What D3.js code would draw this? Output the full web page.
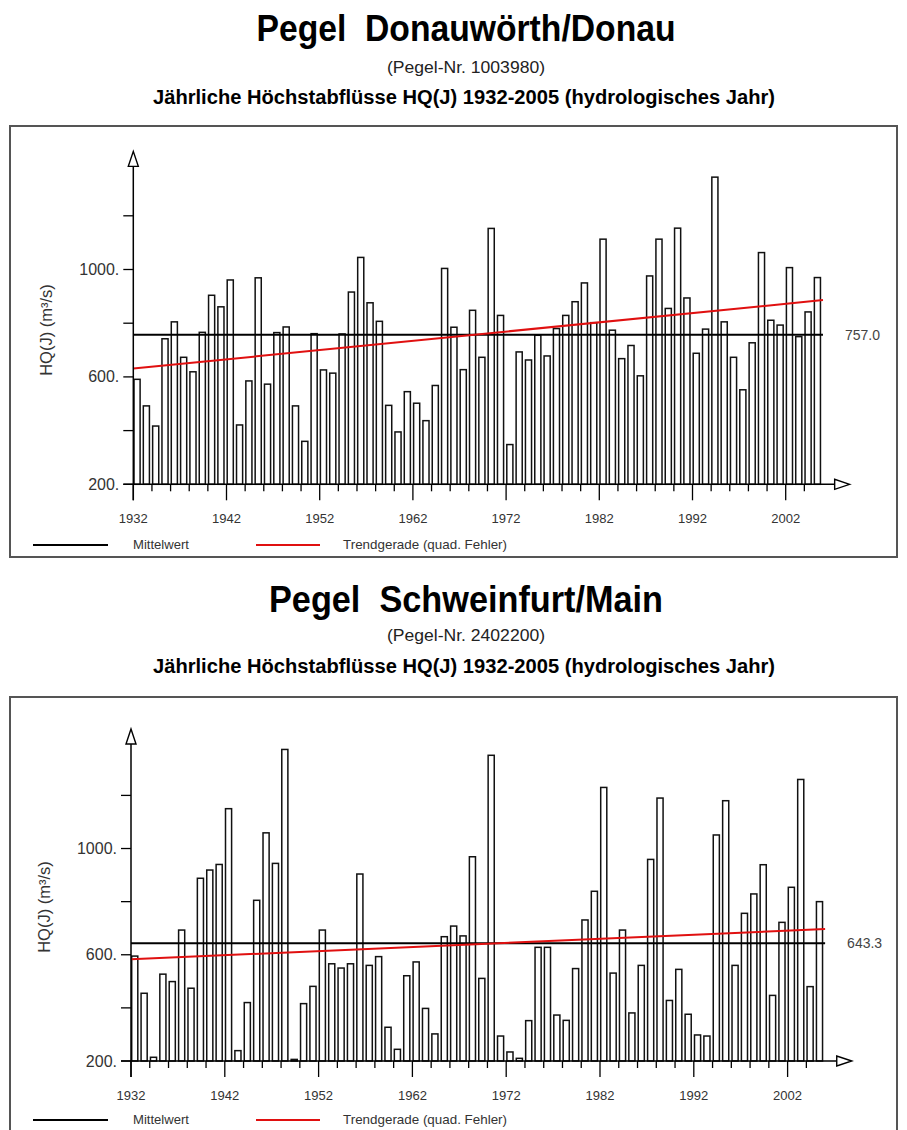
<!DOCTYPE html>
<html>
<head>
<meta charset="utf-8">
<script src="https://cdn.jsdelivr.net/npm/d3@7"></script>
<style>
  body { margin: 0; background: #fff; }
  svg { display: block; }
</style>
</head>
<body>
<svg id="chart" width="907" height="1130"></svg>
<script>
// Hydrological years shown on the x axis
const years = d3.range(1932, 2006);

// Annual peak discharge HQ(J) in m³/s, gauge Donauwörth/Donau
const donauwoerthHQ = [
  591, 492, 417, 742, 805, 673, 619, 766, 904, 861,
  961, 421, 585, 969, 573, 765, 786, 492, 360, 761,
  626, 614, 760, 916, 1045, 876, 807, 494, 395, 545,
  502, 437, 568, 1004, 785, 627, 848, 673, 1153, 829,
  348, 693, 663, 755, 678, 780, 829, 880, 950, 802,
  1113, 774, 668, 717, 604, 976, 1113, 855, 1154, 894,
  688, 778, 1344, 805, 673, 552, 727, 1063, 811, 793,
  1007, 750, 842, 970
];

// Annual peak discharge HQ(J) in m³/s, gauge Schweinfurt/Main
const schweinfurtHQ = [
  595, 455, 214, 527, 499, 693, 474, 888, 919, 940,
  1150, 239, 420, 805, 1059, 944, 1373, 206, 416, 481,
  693, 566, 550, 566, 904, 560, 593, 327, 244, 521,
  573, 398, 302, 668, 708, 671, 969, 511, 1351, 294,
  234, 210, 352, 628, 628, 373, 353, 548, 731, 839,
  1230, 531, 693, 381, 560, 959, 1190, 428, 545, 376,
  298, 294, 1051, 1180, 560, 756, 829, 939, 447, 722,
  854, 1260, 480, 800
];

// Long-term means (Mittelwert)
const meanValues = [757.0, 643.3];
// Least-squares trend line, values at the start (1932) and end (2006) of the line
const trendDonau = [631, 886];
const trendMain = [583, 697];
const trendYears = [1932, 2006];

// Axis ticks
const yTickValues = [200, 400, 600, 800, 1000, 1200];
const yLabelValues = [200, 600, 1000];
const xMinorTicks = d3.range(1932, 2005, 2);
const xLabelYears = [1932, 1942, 1952, 1962, 1972, 1982, 1992, 2002];

// Header texts
const titles = ["Pegel  Donauwörth/Donau", "Pegel  Schweinfurt/Main"];
const gaugeNumbers = ["(Pegel-Nr. 1003980)", "(Pegel-Nr. 2402200)"];
const headline = "Jährliche Höchstabflüsse HQ(J) 1932-2005 (hydrologisches Jahr)";
const legendLabels = ["Mittelwert", "Trendgerade (quad. Fehler)"];

const FONT = "'Liberation Sans', Arial, Helvetica, sans-serif";
const svg = d3.select("#chart");

function drawPanel(p) {
  const g = svg.append("g");

  // Header
  g.append("text")
    .attr("x", p.cx).attr("y", p.titleY)
    .attr("text-anchor", "middle")
    .attr("font-family", FONT).attr("font-weight", "bold").attr("font-size", 37)
    .attr("textLength", p.titleW).attr("lengthAdjust", "spacingAndGlyphs")
    .style("white-space", "pre")
    .text(p.title);
  g.append("text")
    .attr("x", p.cx).attr("y", p.subY)
    .attr("text-anchor", "middle")
    .attr("font-family", FONT).attr("font-size", 16).attr("fill", "#222")
    .attr("textLength", 158).attr("lengthAdjust", "spacingAndGlyphs")
    .text(p.gauge);
  g.append("text")
    .attr("x", p.cx - 2).attr("y", p.headY)
    .attr("text-anchor", "middle")
    .attr("font-family", FONT).attr("font-weight", "bold").attr("font-size", 19.5)
    .attr("textLength", 622).attr("lengthAdjust", "spacingAndGlyphs")
    .text(headline);

  // Frame
  g.append("rect")
    .attr("x", 10).attr("y", p.frameTop)
    .attr("width", 887).attr("height", p.frameH)
    .attr("fill", "none").attr("stroke", "#555").attr("stroke-width", 2);

  const x = d3.scaleLinear().domain([1932, 2005]).range([p.x0, p.x0 + 73 * p.step]);
  const y = d3.scaleLinear().domain([200, 1200]).range([p.base, p.y1200]);
  const axisTop = y(p.axisMax);
  const axisRight = x(2005) + 36;

  // Bars
  g.append("g").selectAll("rect")
    .data(years.map((yr, i) => ({ yr, v: p.values[i] })))
    .join("rect")
    .attr("x", d => x(d.yr) + 0.7)
    .attr("y", d => y(d.v))
    .attr("width", 6.1)
    .attr("height", d => p.base - y(d.v))
    .attr("fill", "#fff")
    .attr("stroke", "#111")
    .attr("stroke-width", 1.5);

  // Mean and trend lines
  g.append("line")
    .attr("x1", x(trendYears[0])).attr("x2", x(trendYears[1]))
    .attr("y1", y(p.mean)).attr("y2", y(p.mean))
    .attr("stroke", "#000").attr("stroke-width", 2);
  g.append("line")
    .attr("x1", x(trendYears[0])).attr("x2", x(trendYears[1]))
    .attr("y1", y(p.trend[0])).attr("y2", y(p.trend[1]))
    .attr("stroke", "#e01010").attr("stroke-width", 2);
  g.append("text")
    .attr("x", x(trendYears[1]) + 22).attr("y", y(p.mean) + 5)
    .attr("font-family", FONT).attr("font-size", 14).attr("fill", "#444")
    .text(d3.format(".1f")(p.mean));

  // Y axis with open arrow head
  g.append("line")
    .attr("x1", p.x0).attr("x2", p.x0)
    .attr("y1", p.base + 16).attr("y2", axisTop + 14)
    .attr("stroke", "#000").attr("stroke-width", 1.5);
  g.append("path")
    .attr("d", `M${p.x0},${axisTop} L${p.x0 - 5},${axisTop + 15} L${p.x0 + 5},${axisTop + 15} Z`)
    .attr("fill", "#fff").attr("stroke", "#000").attr("stroke-width", 1.4);
  g.append("g").selectAll("line")
    .data(yTickValues)
    .join("line")
    .attr("x1", p.x0 - 10).attr("x2", p.x0)
    .attr("y1", d => y(d)).attr("y2", d => y(d))
    .attr("stroke", "#000").attr("stroke-width", 1.3);
  g.append("g").selectAll("text")
    .data(yLabelValues)
    .join("text")
    .attr("x", p.x0 - 14).attr("y", d => y(d) + 5.5)
    .attr("text-anchor", "end")
    .attr("font-family", FONT).attr("font-size", 16).attr("fill", "#333")
    .text(d => d + ".");
  g.append("text")
    .attr("transform", `translate(${p.yLabelX},${p.yLabelY}) rotate(-90)`)
    .attr("text-anchor", "middle")
    .attr("font-family", FONT).attr("font-size", 16.5).attr("fill", "#333")
    .text("HQ(J) (m³/s)");

  // X axis with open arrow head
  g.append("line")
    .attr("x1", p.x0 - 10).attr("x2", axisRight - 14)
    .attr("y1", p.base).attr("y2", p.base)
    .attr("stroke", "#000").attr("stroke-width", 1.5);
  g.append("path")
    .attr("d", `M${axisRight},${p.base} L${axisRight - 15},${p.base - 5} L${axisRight - 15},${p.base + 5} Z`)
    .attr("fill", "#fff").attr("stroke", "#000").attr("stroke-width", 1.4);
  g.append("g").selectAll("line")
    .data(xMinorTicks)
    .join("line")
    .attr("x1", d => x(d)).attr("x2", d => x(d))
    .attr("y1", p.base)
    .attr("y2", d => p.base + ((d - 1932) % 10 === 0 ? 16 : 7))
    .attr("stroke", "#000").attr("stroke-width", 1.3);
  g.append("g").selectAll("text")
    .data(xLabelYears)
    .join("text")
    .attr("x", d => x(d)).attr("y", p.base + 39)
    .attr("text-anchor", "middle")
    .attr("font-family", FONT).attr("font-size", 13.5).attr("fill", "#333")
    .attr("textLength", 29).attr("lengthAdjust", "spacingAndGlyphs")
    .text(d => d);

  // Legend
  const ly = p.legendY;
  g.append("line").attr("x1", 33).attr("x2", 108).attr("y1", ly).attr("y2", ly)
    .attr("stroke", "#000").attr("stroke-width", 2);
  g.append("text").attr("x", 133).attr("y", ly + 4)
    .attr("font-family", FONT).attr("font-size", 13.5).attr("fill", "#333")
    .attr("textLength", 56).attr("lengthAdjust", "spacingAndGlyphs")
    .text(legendLabels[0]);
  g.append("line").attr("x1", 256).attr("x2", 320).attr("y1", ly).attr("y2", ly)
    .attr("stroke", "#e01010").attr("stroke-width", 2);
  g.append("text").attr("x", 343).attr("y", ly + 4)
    .attr("font-family", FONT).attr("font-size", 13.5).attr("fill", "#333")
    .attr("textLength", 164).attr("lengthAdjust", "spacingAndGlyphs")
    .text(legendLabels[1]);
}

drawPanel({
  title: titles[0], gauge: gaugeNumbers[0], cx: 466,
  titleY: 41, titleW: 419, subY: 73, headY: 104,
  frameTop: 126, frameH: 431,
  x0: 133.3, step: 9.32, base: 484.3, y1200: 215.8, axisMax: 1440,
  values: donauwoerthHQ, mean: meanValues[0], trend: trendDonau,
  yLabelX: 52, yLabelY: 330, legendY: 545
});

drawPanel({
  title: titles[1], gauge: gaugeNumbers[1], cx: 466,
  titleY: 612, titleW: 394, subY: 641, headY: 673,
  frameTop: 697, frameH: 460,
  x0: 131, step: 9.38, base: 1061, y1200: 795.4, axisMax: 1450,
  values: schweinfurtHQ, mean: meanValues[1], trend: trendMain,
  yLabelX: 50, yLabelY: 907, legendY: 1120
});
</script>
</body>
</html>
